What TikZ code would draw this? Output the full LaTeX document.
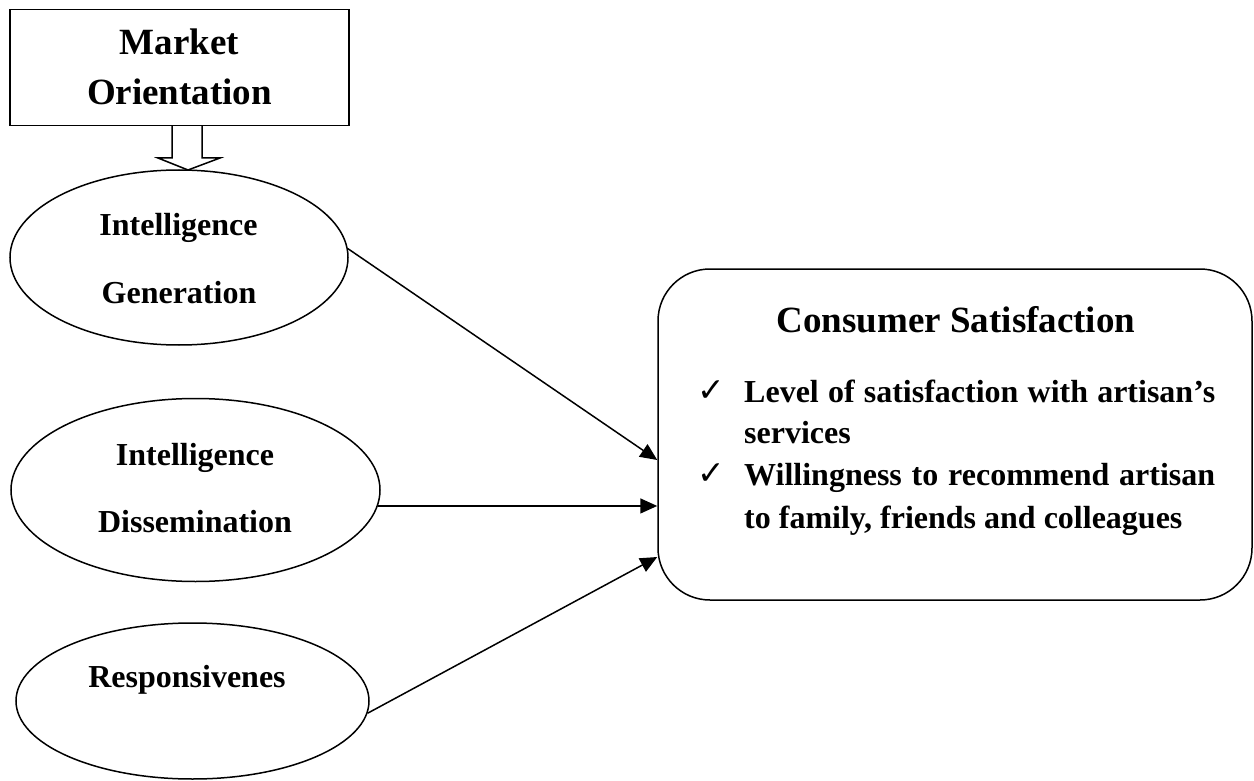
\documentclass[tikz,border=0pt]{standalone}
\usepackage{fontspec}
\setmainfont{Liberation Serif}
\newfontfamily\symfont{DejaVu Sans}
\usetikzlibrary{shapes.geometric,arrows.meta,calc}
\begin{document}
\begin{tikzpicture}[x=1pt,y=-1pt,
  conbox/.style={draw, line width=1.5pt, inner sep=0pt},
  oval/.style={draw, ellipse, line width=1.5pt, inner sep=0pt},
  bigtxt/.style={font=\fontsize{37}{50}\selectfont\bfseries, inner sep=0pt, anchor=base},
  midtxt/.style={font=\fontsize{32}{40}\selectfont\bfseries, inner sep=0pt, anchor=base},
  linetxt/.style={font=\fontsize{32}{42}\selectfont\bfseries, inner sep=0pt, anchor=base west},
  ticktxt/.style={font=\symfont\fontsize{33}{33}\selectfont, inner sep=0pt, anchor=base west},
  link/.style={line width=1.5pt, -{Triangle[length=17pt,width=15pt]}}
]
\useasboundingbox (0,0) rectangle (1254,781);
% Market Orientation
\node[conbox, minimum width=339pt, minimum height=116pt] (mo) at (179.5,67.5) {};
\node[bigtxt] (mo1) at (179.5,55) {Market};
\node[bigtxt] (mo2) at (179.5,105) {Orientation};
% ellipses
\node[oval, minimum width=338pt, minimum height=175pt] (ig) at (179,257.5) {};
\node[oval, minimum width=369pt, minimum height=183pt] (id) at (195.5,490) {};
\node[oval, minimum width=353pt, minimum height=156pt] (rs) at (192.5,701) {};
\node[midtxt] (ig1) at (178.5,236) {Intelligence};
\node[midtxt] (ig2) at (179,303) {Generation};
\node[midtxt] (id1) at (195,465) {Intelligence};
\node[midtxt] (id2) at (195,532) {Dissemination};
\node[midtxt] (rs1) at (187,687) {Responsivenes};
% hollow arrow
\draw[line width=1.5pt, line join=miter] (172,125.5) -- (172,158) -- (158,158) -- (188,170) -- (220,158) -- (202,158) -- (202,125.5);
% Consumer satisfaction
\node[conbox, rounded corners=52pt, minimum width=594pt, minimum height=331pt] (cs) at (955,434.5) {};
\node[bigtxt] (cs1) at (956,332) {Consumer Satisfaction};
\node[ticktxt] (t1) at (697,401) {✓};
\node[linetxt] (l1) at (744,402) {\makebox[471pt][s]{Level of satisfaction with artisan’s}};
\node[linetxt] (l2) at (744,443) {services};
\node[ticktxt] (t2) at (697,484) {✓};
\node[linetxt] (l3) at (744,485) {\makebox[471pt][s]{Willingness to recommend artisan}};
\node[linetxt] (l4) at (744,528) {to family, friends and colleagues};
% connectors
\draw[link] (ig.3) -- ([yshift=-25.5pt]cs.west);
\draw[link] (id.-5) -- (id.-5 -| cs.west);
\draw[link] (rs.-4) -- ([yshift=-122.5pt]cs.west);
\end{tikzpicture}
\end{document}
